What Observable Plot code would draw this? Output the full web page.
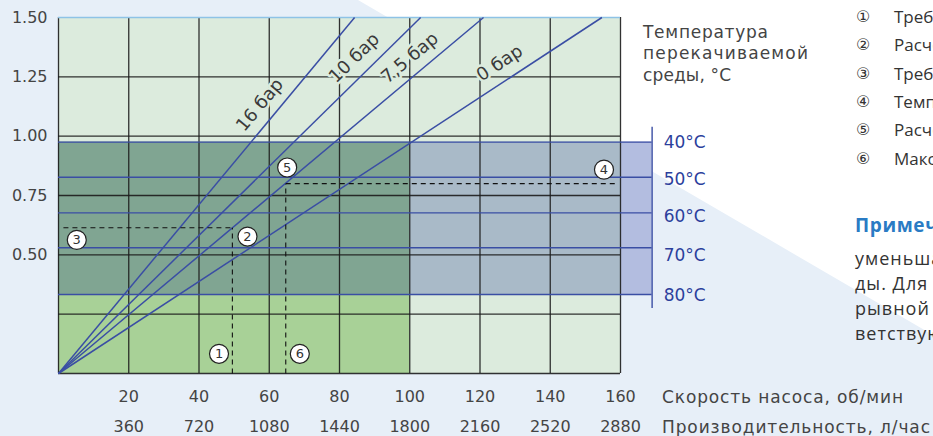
<!DOCTYPE html>
<html><head><meta charset="utf-8">
<script src="https://cdn.jsdelivr.net/npm/d3@7"></script>
<script src="https://cdn.jsdelivr.net/npm/@observablehq/plot@0.6"></script>
<style>
html,body{margin:0;padding:0;overflow:hidden;width:933px;height:436px;}
body{background:#e7eff8 url("data:image/svg+xml,%3Csvg xmlns='http://www.w3.org/2000/svg' width='933' height='436'%3E%3Cpolygon points='358,0 933,0 933,335' fill='white'/%3E%3C/svg%3E") no-repeat;}
#wrap{position:relative;width:933px;height:436px;}
#chart{position:absolute;left:0;top:0;}
.t{position:absolute;white-space:nowrap;line-height:22px;height:22px;}
.ax{font-family:"DejaVu Sans";font-size:17px;color:#444;}
.lg{font-family:"Open Sans";font-size:17px;color:#333;}
.nt{font-family:"Open Sans";font-size:18px;letter-spacing:1px;color:#333;}
</style></head>
<body><div id="wrap"><div id="chart"></div></div>
<script>
// ---- data ----
const xTicks = [20, 40, 60, 80, 100, 120, 140, 160];
const flowLabels = ["360", "720", "1080", "1440", "1800", "2160", "2520", "2880"];
const yTicks = [0.5, 0.75, 1.0, 1.25, 1.5];
const gridX = [0, 20, 40, 60, 80, 100, 120, 140, 160];
const gridY = [0, 0.25, 0.5, 0.75, 1.0, 1.25];

const pressureLabels = ["16 бар", "10 бар", "7,5 бар", "0 бар"];
const pressureXAtMax = [84.3, 103.1, 121, 154.7];   // rpm where line reaches 1.5
const pressureLabelX = [57.3, 84.2, 100.0, 125.6];
const pressureLabelY = [1.132, 1.330, 1.330, 1.308];

const tempLabels = ["40°C", "50°C", "60°C", "70°C", "80°C"];
const tempY = [0.975, 0.827, 0.677, 0.530, 0.333];
const tempLabelY = [0.975, 0.817, 0.662, 0.495, 0.329];
const tempAxisX = 169;
const tempAxisY = [0.274, 1.038];
const tempLabelX = 172.3;

const zoneX1 = [0, 0, 0, 100, 160];
const zoneX2 = [160, 100, 100, 160, 169];
const zoneY1 = [0, 0, 0.333, 0.333, 0.333];
const zoneY2 = [1.5, 0.333, 0.975, 0.975, 0.975];

const pointX = [49.5, 64.7];
const pointY = [0.614, 0.80];
const guideStartX = [1.4, 64.7];
const guideEndX = [49.5, 159.5];

const markerLabels = ["1", "2", "3", "4", "5", "6"];
const markerX = [45.7, 53.8, 5.2, 155.3, 65.1, 68.7];
const markerY = [0.083, 0.577, 0.563, 0.859, 0.868, 0.083];

const legendItems = ["Требуемая производительность", "Расчетная точка", "Требуемое давление",
  "Температура перекачиваемой среды", "Расчетное давление", "Максимальная скорость насоса"];
const legendSymbols = ["①", "②", "③", "④", "⑤", "⑥"];
const noteTitle = "Примечание:";
const noteLines = ["уменьшается при росте температуры сре-", "ды. Для непрерывной работы и непре-",
  "рывной подачи выбирайте соот-", "ветствующую скорость насоса."];
const tempTitle = ["Температура", "перекачиваемой", "среды, °C"];
const tempTitleWidths = [125, 165, 88];
const axisTitles = ["Скорость насоса, об/мин", "Производительность, л/час"];
const axisTitleWidths = [241, 268];

// ---- styles ----
const zoneFill = ["#dcebdd", "#a8d197", "#80a592", "#a9bac8", "#b3bde0"];
const W = 933, H = 436, mL = 58, mR = 313, mT = 17, mB = 63;
const xPx = (W - mL - mR) / 160, yPx = (H - mT - mB) / 1.5;
const angles = pressureXAtMax.map(x => -Math.atan2(1.5 / x * yPx, xPx) * 180 / Math.PI);
const idx = d3.range(zoneX1.length);
const blue = "#3a4ea4";

const chart = Plot.plot({
  width: W, height: H, marginLeft: mL, marginRight: mR, marginTop: mT, marginBottom: mB,
  x: {domain: [0, 160], axis: null},
  y: {domain: [0, 1.5], axis: null},
  style: {background: "transparent", fontFamily: "DejaVu Sans", overflow: "visible"},
  marks: [
    Plot.rect(idx, {x1: i => zoneX1[i], x2: i => zoneX2[i], y1: i => zoneY1[i], y2: i => zoneY2[i], fill: i => zoneFill[i]}),
    Plot.ruleX(gridX, {stroke: "#1c1c1c", strokeWidth: 1.3, strokeOpacity: 0.9}),
    Plot.ruleY(gridY, {stroke: "#1c1c1c", strokeWidth: 1.3, strokeOpacity: 0.9}),
    Plot.ruleY([1.5], {stroke: "#8ec3e6", strokeWidth: 1.3}),
    Plot.ruleY(tempY, {x1: 0, x2: tempAxisX, stroke: blue, strokeWidth: 1.4}),
    Plot.ruleX([tempAxisX], {y1: tempAxisY[0], y2: tempAxisY[1], stroke: blue, strokeWidth: 1.4}),
    Plot.link(pressureLabels, {x1: 0, y1: 0, x2: pressureXAtMax, y2: 1.5, stroke: blue, strokeWidth: 1.5}),
    Plot.link(pointX, {x1: guideStartX, x2: guideEndX, y1: pointY, y2: pointY, stroke: "#111", strokeWidth: 1.1, strokeDasharray: "5,4"}),
    Plot.link(pointX, {x1: pointX, x2: pointX, y1: 0, y2: pointY, stroke: "#111", strokeWidth: 1.1, strokeDasharray: "5,4"}),
    Plot.text(pressureLabels, {x: pressureLabelX, y: pressureLabelY, rotate: angles, text: d => d, fontSize: 18, fill: "#3a3a3a", stroke: "#dcebdd", strokeWidth: 5}),
    Plot.dot(markerLabels, {x: markerX, y: markerY, r: 9.5, fill: "white", stroke: "#222", strokeWidth: 1.2}),
    Plot.text(markerLabels, {x: markerX, y: markerY, text: d => d, fontSize: 13, fill: "#333"}),
    Plot.text(tempLabels, {x: tempLabelX, y: tempLabelY, text: d => d, textAnchor: "start", fontSize: 17, fill: "#2c3f9c"}),
    Plot.axisY(yTicks, {tickSize: 0, tickPadding: 11, tickFormat: d => d.toFixed(2), fontSize: 16, fill: "#444"}),
    Plot.axisX(xTicks, {tickSize: 0, tickPadding: 17, fontSize: 16, fill: "#444"}),
    Plot.axisX(xTicks, {tickSize: 0, tickPadding: 47, fontSize: 16, fill: "#444", tickFormat: d => flowLabels[xTicks.indexOf(d)]})
  ]
});
document.getElementById("chart").appendChild(chart);

// ---- HTML text blocks ----
const wrap = document.getElementById("wrap");
function addText(txt, cls, left, cy, extra, targetWidth) {
  const d = document.createElement("div");
  d.className = "t " + cls;
  d.textContent = txt;
  d.style.left = left + "px";
  d.style.top = (cy - 11) + "px";
  if (extra) Object.assign(d.style, extra);
  wrap.appendChild(d);
  if (targetWidth) {
    const w = d.getBoundingClientRect().width;
    const n = Math.max(1, txt.length - 1);
    d.style.letterSpacing = ((targetWidth - w) / n) + "px";
  }
  return d;
}
tempTitle.forEach((s, i) => addText(s, "ax", 643, 31.7 + i * 21.7, null, tempTitleWidths[i]));
axisTitles.forEach((s, i) => addText(s, "ax", 662, 397 + i * 30, null, axisTitleWidths[i]));
legendItems.forEach((s, i) => {
  addText(legendSymbols[i], "lg", 856, 17 + i * 28.3, {fontFamily: "DejaVu Sans", fontSize: "16px"});
  addText(s, "lg", 894, 17 + i * 28.3);
});
addText(noteTitle + " максимальное давление", "nt", 855, 225, {color: "#2a7bc4", fontWeight: "700", fontSize: "19px", letterSpacing: "0.6px"});
noteLines.forEach((s, i) => addText(s, "nt", 855, 258 + i * 25));
</script>
</body></html>
